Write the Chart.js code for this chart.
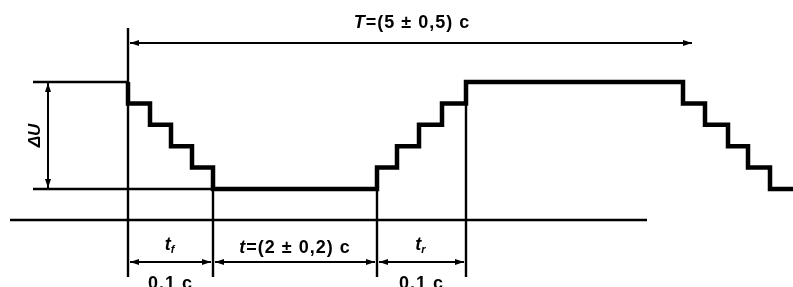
<!DOCTYPE html>
<html>
<head>
<meta charset="utf-8">
<script src="https://cdn.jsdelivr.net/npm/chart.js@4"></script>
<style>
  html, body { margin: 0; padding: 0; background: #fff; }
  #wrap { width: 793px; height: 287px; }
</style>
</head>
<body>
<div id="wrap"><canvas id="c"></canvas></div>
<script>
// waveform: time (diagram units) and voltage step level (0 = low, 5 = high)
const waveT = [128, 128, 150, 171, 192, 213, 377, 397, 419, 442, 466, 683, 705, 728, 748, 770, 793];
const waveU = [5, 4, 3, 2, 1, 0, 1, 2, 3, 4, 5, 4, 3, 2, 1, 0, 0];

// reference levels and axis
const highRef = [33, 128];
const lowRef = [33, 213];
const axisSpan = [10, 647];
const axisLevel = -1.45;

// vertical marker lines: time, from level, to level
const markT = [128, 213, 377, 466];
const markFrom = [7.52, 0, 0, 5];
const markTo = [-4.11, -4.11, -4.11, -4.11];

// dimension lines
const periodSpan = [128, 692];
const periodLevel = 6.82;
const dimStart = [128, 213, 377];
const dimEnd = [213, 377, 466];
const dimLevel = -3.41;
const deltaUAt = 48;

const periodLabel = ['T', '=(5 ± 0,5) c'];
const holdLabel = ['t', '=(2 ± 0,2) c'];
const fallLabel = ['t', 'f'];
const riseLabel = ['t', 'r'];
const stepLabel = '0,1 c';
const deltaULabel = 'ΔU';

const pxPerLevel = 21.4;
const yMax = 5 + 82 / pxPerLevel;
const yMin = yMax - 287 / pxPerLevel;

const FAMILY = '"Liberation Sans", Arial, sans-serif';

function seg(x0, x1, y0, y1) {
  return [{ x: x0, y: y0 }, { x: x1, y: y1 }];
}

const thin = { borderColor: '#000', borderWidth: 2.4, pointRadius: 0, fill: false };

const datasets = [
  { ...thin, data: seg(highRef[0], highRef[1], 5, 5) },
  { ...thin, data: seg(lowRef[0], lowRef[1], 0, 0) },
  { ...thin, data: seg(axisSpan[0], axisSpan[1], axisLevel, axisLevel) },
];
markT.forEach((t, i) => {
  datasets.push({ ...thin, data: seg(t, t, markFrom[i], markTo[i]) });
});
datasets.push({
  borderColor: '#000', borderWidth: 4.5, pointRadius: 0, fill: false,
  stepped: 'before', borderJoinStyle: 'miter', borderCapStyle: 'butt',
  data: waveT.map((t, i) => ({ x: t, y: waveU[i] }))
});

function arrowHead(ctx, x, y, dx, dy) {
  const len = 9, half = 3;
  ctx.beginPath();
  ctx.moveTo(x, y);
  ctx.lineTo(x - dx * len - dy * half, y - dy * len + dx * half);
  ctx.lineTo(x - dx * len + dy * half, y - dy * len - dx * half);
  ctx.closePath();
  ctx.fill();
}

function dimLine(ctx, x0, y0, x1, y1) {
  ctx.lineWidth = 2;
  ctx.beginPath();
  ctx.moveTo(x0, y0);
  ctx.lineTo(x1, y1);
  ctx.stroke();
  const d = Math.hypot(x1 - x0, y1 - y0);
  const dx = (x1 - x0) / d, dy = (y1 - y0) / d;
  arrowHead(ctx, x1, y1, dx, dy);
  arrowHead(ctx, x0, y0, -dx, -dy);
}

function mixedText(ctx, parts, cx, cy, sub) {
  const ital = 'italic bold 18px ' + FAMILY;
  const reg = 'bold 18px ' + FAMILY;
  const small = 'italic bold 11px ' + FAMILY;
  ctx.letterSpacing = '1px';
  ctx.font = ital;
  const w0 = ctx.measureText(parts[0]).width;
  ctx.font = sub ? small : reg;
  const w1 = ctx.measureText(parts[1]).width;
  let x = cx - (w0 + w1) / 2;
  ctx.textAlign = 'left';
  ctx.textBaseline = 'middle';
  ctx.font = ital;
  ctx.fillText(parts[0], x, cy);
  ctx.font = sub ? small : reg;
  ctx.fillText(parts[1], x + w0 - (sub ? 1 : 0), sub ? cy + 5 : cy);
}

const annotations = {
  id: 'annotations',
  afterDatasetsDraw(chart) {
    const { ctx, scales: { x, y } } = chart;
    ctx.save();
    ctx.fillStyle = '#000';
    ctx.strokeStyle = '#000';

    const py = y.getPixelForValue(periodLevel);
    dimLine(ctx, x.getPixelForValue(periodSpan[0]) + 2, py, x.getPixelForValue(periodSpan[1]), py);

    const dx = x.getPixelForValue(deltaUAt);
    dimLine(ctx, dx, y.getPixelForValue(0) - 1, dx, y.getPixelForValue(5) + 1);

    const by = y.getPixelForValue(dimLevel);
    dimStart.forEach((s, i) => {
      dimLine(ctx, x.getPixelForValue(s) + 2, by, x.getPixelForValue(dimEnd[i]) - 2, by);
    });

    mixedText(ctx, periodLabel, x.getPixelForValue(412), py - 20, false);
    mixedText(ctx, holdLabel, x.getPixelForValue((dimStart[1] + dimEnd[1]) / 2), by - 14, false);
    mixedText(ctx, fallLabel, x.getPixelForValue((dimStart[0] + dimEnd[0]) / 2), by - 17, true);
    mixedText(ctx, riseLabel, x.getPixelForValue((dimStart[2] + dimEnd[2]) / 2), by - 17, true);

    ctx.letterSpacing = '1px';
    ctx.font = 'bold 18px ' + FAMILY;
    ctx.textAlign = 'center';
    ctx.textBaseline = 'middle';
    ctx.fillText(stepLabel, x.getPixelForValue((dimStart[0] + dimEnd[0]) / 2), by + 22);
    ctx.fillText(stepLabel, x.getPixelForValue((dimStart[2] + dimEnd[2]) / 2), by + 22);

    ctx.translate(x.getPixelForValue(deltaUAt) - 13, y.getPixelForValue(2.5));
    ctx.rotate(-Math.PI / 2);
    ctx.letterSpacing = '0px';
    ctx.font = 'italic bold 17px ' + FAMILY;
    ctx.fillText(deltaULabel, 0, 0);
    ctx.restore();
  }
};

new Chart(document.getElementById('c'), {
  type: 'line',
  data: { datasets },
  options: {
    responsive: true,
    maintainAspectRatio: false,
    animation: false,
    layout: { padding: 0 },
    plugins: { legend: { display: false }, tooltip: { enabled: false } },
    scales: {
      x: { type: 'linear', min: 0, max: 793, display: false },
      y: { type: 'linear', min: yMin, max: yMax, display: false }
    }
  },
  plugins: [annotations]
});
</script>
</body>
</html>
